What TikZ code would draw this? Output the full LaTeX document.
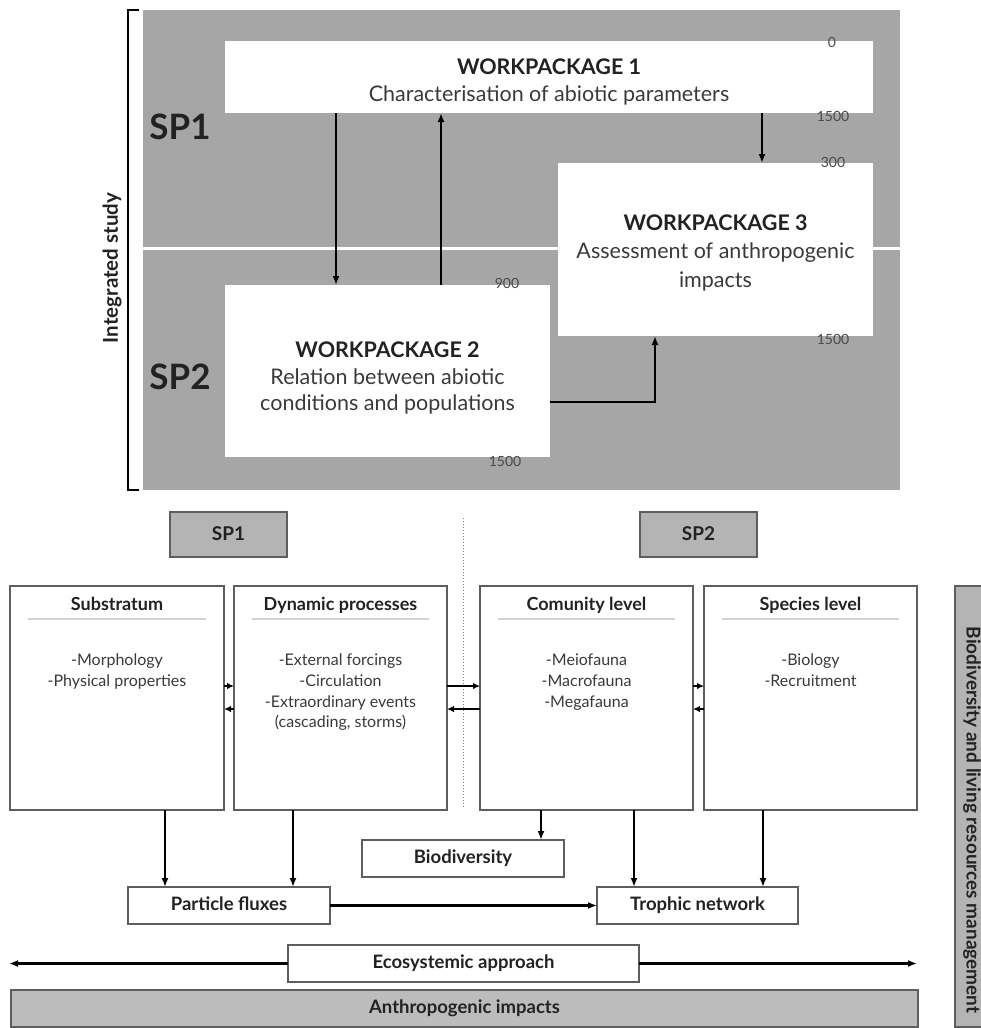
\documentclass[tikz,border=0pt]{standalone}
\usepackage{fontspec}
\setmainfont{Lato}
\usetikzlibrary{arrows.meta,calc}
\definecolor{panelgray}{HTML}{A6A6A6}
\definecolor{boxgray}{HTML}{B4B4B4}
\definecolor{boxgrayB}{HTML}{BCBCBC}
\definecolor{edgegray}{HTML}{5E5E5E}
\definecolor{txt}{HTML}{222222}
\definecolor{txtsoft}{HTML}{3A3A3A}
\definecolor{numgray}{HTML}{4A4A4A}
\definecolor{ulinegray}{HTML}{D2D2D2}
\begin{document}
\begin{tikzpicture}[x=1pt,y=-1pt,
  every node/.style={inner sep=0pt, outer sep=0pt},
  wpbox/.style={fill=white, anchor=north west},
  wptext/.style={align=center, text=txtsoft, font=\fontsize{21.5}{26.5}\selectfont},
  num/.style={font=\fontsize{14}{15}\selectfont, text=numgray},
  splabel/.style={font=\bfseries\fontsize{35}{38}\selectfont, text=txt},
  arr/.style={line width=2.6pt, draw=black, -{Latex[length=9pt,width=7pt]}},
  harr/.style={line width=2pt, draw=black, -{Latex[length=7pt,width=6.5pt]}},
  panelbox/.style={draw=edgegray, line width=1.4pt, fill=white, anchor=north west},
  spbox/.style={draw=edgegray, line width=1.4pt, fill=boxgray, anchor=north west, text=txt, font=\bfseries\fontsize{19}{21}\selectfont, text height=13pt, text depth=2pt},
  smallbox/.style={draw=edgegray, line width=1.4pt, fill=white, anchor=north west, text=txt, font=\bfseries\fontsize{18.5}{20}\selectfont, text height=13pt, text depth=3pt},
  ptitle/.style={font=\bfseries\fontsize{18}{20}\selectfont, text=txt, text height=13pt, text depth=3pt},
  pcontent/.style={font=\fontsize{16}{20.7}\selectfont, text=txtsoft, align=center, anchor=north},
  uline/.style={draw=ulinegray, line width=1.5pt}
]
\useasboundingbox (0,0) rectangle (981,1028);

% ---------- upper panel ----------
\fill[panelgray] (143,10) rectangle (900,490);
\draw[white, line width=3pt] (143,248) -- (900,248);
\draw[line width=1.6pt] (139,10) -- (128,10) -- (128,490) -- (139,490);
\node[rotate=90, font=\bfseries\fontsize{20.5}{22}\selectfont, text=txt] (integ) at (112,268) {Integrated study};
\node[splabel] (sp1lab) at (180,127) {SP1};
\node[splabel] (sp2lab) at (180,377) {SP2};

\node[wpbox, minimum width=648pt, minimum height=72pt] (wp1) at (225,41) {};
\node[wptext] (wp1t) at ($(wp1.center)+(0,5)$)
  {\textbf{\color{txt}WORKPACKAGE 1}\\Characterisation of abiotic parameters};
\node[wpbox, minimum width=315pt, minimum height=173pt] (wp3) at (558,163) {};
\node[wptext, font=\fontsize{21.5}{28.5}\selectfont] (wp3t) at ($(wp3.center)+(0,3)$)
  {\textbf{\color{txt}WORKPACKAGE 3}\\Assessment of anthropogenic\\impacts};
\node[wpbox, minimum width=325pt, minimum height=172pt] (wp2) at (225,285) {};
\node[wptext] (wp2t) at ($(wp2.center)+(0,7)$)
  {\textbf{\color{txt}WORKPACKAGE 2}\\Relation between abiotic\\conditions and populations};

\node[num] (n0) at (832,42) {0};
\node[num] (n1500a) at (833,116) {1500};
\node[num] (n300) at (833,162) {300};
\node[num] (n1500b) at (833,339) {1500};
\node[num] (n900) at (507,283) {900};
\node[num] (n1500c) at (505,461) {1500};

\coordinate (xa) at (336,0);
\coordinate (xb) at (441,0);
\coordinate (xc) at (762,0);
\coordinate (xd) at (655,402);
\draw[arr] (wp1.south -| xa) -- (wp2.north -| xa);
\draw[arr] (wp2.north -| xb) -- (wp1.south -| xb);
\draw[arr] (wp1.south -| xc) -- (wp3.north -| xc);
\draw[arr] (wp2.east |- xd) -- (xd) -- (wp3.south -| xd);

% ---------- lower diagram ----------
\node[spbox, minimum width=117pt, minimum height=45pt] (sp1b) at (170,512) {SP1};
\node[spbox, minimum width=117pt, minimum height=45pt] (sp2b) at (640,512) {SP2};

\coordinate (dtop) at (463,518);
\coordinate (dbot) at (463,807);
\draw[dotted, line width=1pt, draw=gray] (dtop) -- (dbot);

\node[panelbox, minimum width=214pt, minimum height=224pt] (subs) at (10,586) {};
\node[panelbox, minimum width=213pt, minimum height=224pt] (dyn) at (234,586) {};
\node[panelbox, minimum width=213pt, minimum height=224pt] (com) at (480,586) {};
\node[panelbox, minimum width=213pt, minimum height=224pt] (spec) at (704,586) {};

\foreach \b/\t in {subs/Substratum, dyn/Dynamic processes, com/Comunity level, spec/Species level}{
  \node[ptitle] (\b T) at ($(\b.north)+(0,19)$) {\t};
  \draw[uline] ($(\b.north west)+(18,33)$) -- ($(\b.north east)+(-18,33)$);
}
\node[pcontent] (subsC) at ($(subs.north)+(0,68)$) {-Morphology\\-Physical properties};
\node[pcontent] (dynC) at ($(dyn.north)+(0,68)$) {-External forcings\\-Circulation\\-Extraordinary events\\(cascading, storms)};
\node[pcontent] (comC) at ($(com.north)+(0,68)$) {-Meiofauna\\-Macrofauna\\-Megafauna};
\node[pcontent] (specC) at ($(spec.north)+(0,68)$) {-Biology\\-Recruitment};

\coordinate (h1) at (0,686);
\coordinate (h2) at (0,709);
\draw[harr] (subs.east |- h1) -- (dyn.west |- h1);
\draw[harr] (dyn.west |- h2) -- (subs.east |- h2);
\draw[harr] (dyn.east |- h1) -- (com.west |- h1);
\draw[harr] (com.west |- h2) -- (dyn.east |- h2);
\draw[harr] (com.east |- h1) -- (spec.west |- h1);
\draw[harr] (spec.west |- h2) -- (com.east |- h2);

% right vertical box
\fill[boxgray] (955,586) rectangle (990,1027);
\draw[edgegray, line width=1.4pt] (990,586) -- (955,586) -- (955,1027) -- (990,1027);
\node[rotate=-90, font=\bfseries\fontsize{19}{21}\selectfont, text=txt] (biomgmt) at (972,820) {Biodiversity and living resources management};

\node[smallbox, minimum width=202pt, minimum height=37pt] (bio) at (362,840) {Biodiversity};
\node[smallbox, minimum width=202pt, minimum height=37pt] (part) at (128,887) {Particle fluxes};
\node[smallbox, minimum width=201pt, minimum height=37pt] (troph) at (597,887) {Trophic network};

\coordinate (xbio) at (541,0);
\coordinate (xp1) at (165,0);
\coordinate (xp2) at (293,0);
\coordinate (xt1) at (634,0);
\coordinate (xt2) at (763,0);
\draw[arr] (com.south -| xbio) -- (bio.north -| xbio);
\draw[arr] (subs.south -| xp1) -- (part.north -| xp1);
\draw[arr] (dyn.south -| xp2) -- (part.north -| xp2);
\draw[arr] (com.south -| xt1) -- (troph.north -| xt1);
\draw[arr] (spec.south -| xt2) -- (troph.north -| xt2);
\draw[arr] (part.east) -- (troph.west);

\node[smallbox, minimum width=351pt, minimum height=37pt] (eco) at (288,945) {Ecosystemic approach};
\coordinate (eL) at (9,963.5);
\coordinate (eR) at (917,963.5);
\draw[arr] (eco.west) -- (eL);
\draw[arr] (eco.east) -- (eR);

\node[smallbox, fill=boxgrayB, minimum width=907pt, minimum height=37pt] (anth) at (11,990) {Anthropogenic impacts};
\end{tikzpicture}
\end{document}
